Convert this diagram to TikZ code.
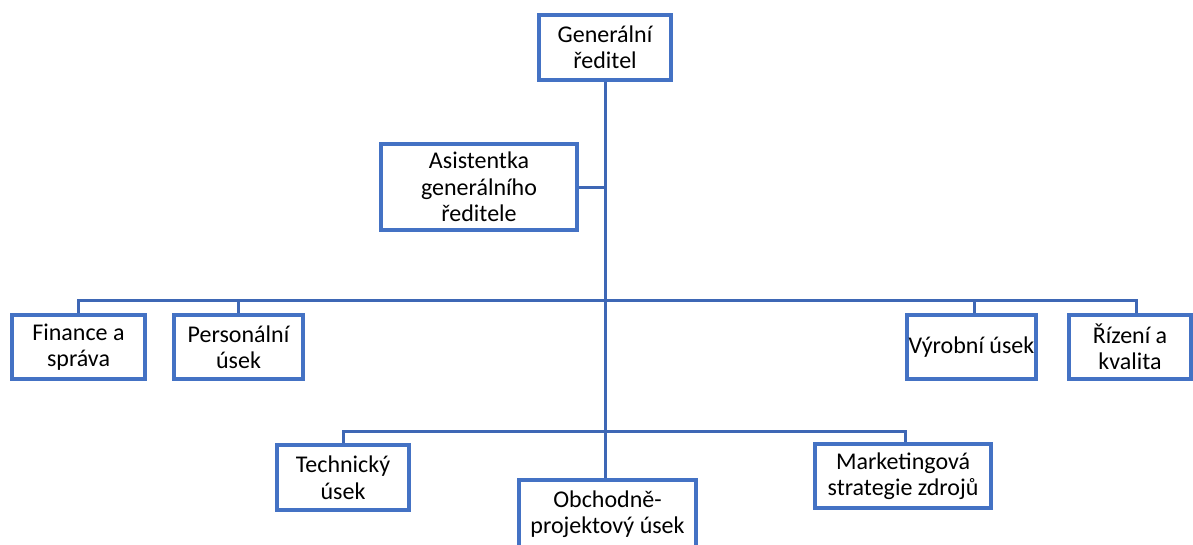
\documentclass[tikz,border=0pt]{standalone}
\usepackage{fontspec}
\setmainfont{Carlito}
\definecolor{boxblue}{HTML}{4472C4}
\definecolor{lineblue}{HTML}{3E67B5}
\tikzset{
  unit/.style={draw=boxblue, line width=4pt, fill=white, inner sep=0pt, align=center,
    font=\fontsize{24}{26.5}\selectfont},
  conn/.style={draw=lineblue, line width=3pt}
}
\begin{document}
\begin{tikzpicture}[x=1pt,y=-1pt]
\useasboundingbox (0,0) rectangle (1193,544);
\coordinate (b1) at (606,300);
\coordinate (b2) at (606,431);
\node[unit, minimum width=132pt, minimum height=65pt] (gr) at (605,47.5) {Generální\\ředitel};
\node[unit, minimum width=196pt, minimum height=86pt] (as) at (479,187) {Asistentka\\generálního\\ředitele};
\node[unit, minimum width=133pt, minimum height=64pt] (fin) at (78.5,347) {Finance a\\správa};
\node[unit, minimum width=129pt, minimum height=64pt] (per) at (238.5,347) {Personální\\úsek};
\node[unit, minimum width=129pt, minimum height=64pt] (vyr) at (971.5,347) {Výrobní úsek};
\node[unit, minimum width=122pt, minimum height=64pt] (riz) at (1130,347) {Řízení a\\kvalita};
\node[unit, minimum width=132pt, minimum height=65pt] (tec) at (343,477.5) {Technický\\úsek};
\node[unit, minimum width=177pt, minimum height=68pt] (obc) at (607.5,514) {Obchodně-\\projektový úsek};
\node[unit, minimum width=176pt, minimum height=64pt] (mkt) at (903,476) {Marketingová\\strategie zdrojů};
\draw[conn] (gr.south) -- (gr.south |- obc.north);
\draw[conn] (as.east) -- (as.east -| gr.south);
\draw[conn] (fin.north) |- (b1) -| ([xshift=6pt]riz.north);
\draw[conn] (per.north) -- (per.north |- b1);
\draw[conn] ([xshift=3pt]vyr.north) -- ([xshift=3pt]vyr.north |- b1);
\draw[conn] (tec.north) |- (b2) -| ([xshift=2pt]mkt.north);
\end{tikzpicture}
\end{document}
